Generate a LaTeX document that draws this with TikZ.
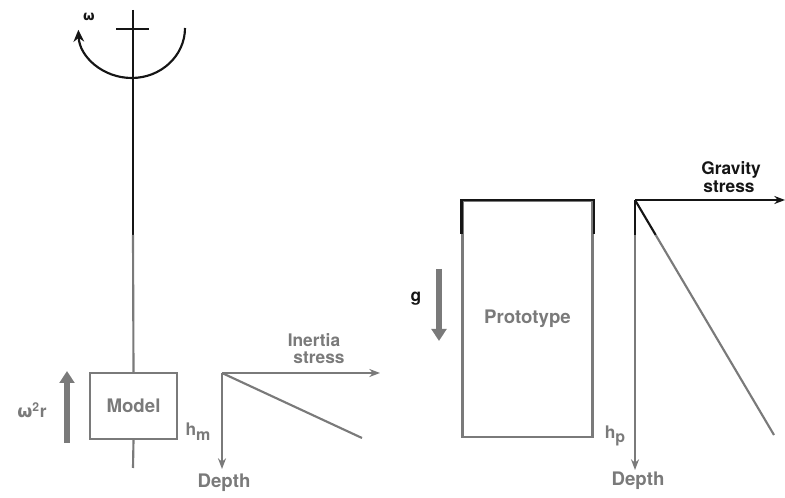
\documentclass[tikz,border=0pt]{standalone}
\usepackage{fontspec}
\setmainfont{TeX Gyre Heros}
\newfontfamily\dvfont{DejaVu Sans}
\usetikzlibrary{arrows.meta}
\definecolor{ink}{HTML}{151515}
\definecolor{pale}{HTML}{7A7A7A}
\tikzset{
  blk/.style={draw=ink, line width=1.6pt},
  gry/.style={draw=pale, line width=1.6pt},
  lbl/.style={font=\fontsize{14}{16}\selectfont\bfseries, inner sep=0pt},
  sml/.style={font=\fontsize{13}{15}\selectfont\bfseries, inner sep=0pt},
  fat/.style={draw=pale, line width=5pt, -{Triangle[width=11pt,length=9pt]}},
  thinarr/.style={-{Stealth[width=6pt,length=8pt]}},
  boxstyle/.style={draw=pale, line width=1.6pt, text=pale, lbl}
}
\begin{document}
\begin{tikzpicture}[x=0.75pt,y=-0.75pt]
\useasboundingbox (0,0) rectangle (785,498);

% ---------- model side ----------
\coordinate (axtop) at (133,10);
\coordinate (axmid) at (133,235);
\coordinate (axbot) at (133,468);
\node[boxstyle, minimum width=65pt, minimum height=49.5pt] (model) at (133.5,406) {Model};
\draw[blk] (axtop) -- (axmid);
\draw[gry] (axmid) -- (model.north);
\draw[gry] (model.south) -- (axbot);

\coordinate (cl) at (116,29);
\coordinate (cr) at (149,29);
\draw[blk, line width=1.2pt] (cl) -- (cr);

\coordinate (arcR) at (185,28);
\draw[blk, -{Stealth[width=8pt,length=9pt]}] (arcR) arc[start angle=0, end angle=-178, x radius=40pt, y radius=37.5pt];
\node[font=\fontsize{10}{12}\selectfont\dvfont\bfseries, inner sep=0pt, text=ink] (om) at (89,17) {ω};

\coordinate (ua0) at (67,443);
\coordinate (ua1) at (67,371);
\draw[fat] (ua0) -- (ua1);
\node[sml, text=pale] (wr) at (32,410) {{\dvfont ω}\textsuperscript{2}r};

\coordinate (io) at (222,373);
\coordinate (ix) at (380,373);
\coordinate (iy) at (222,469);
\coordinate (id) at (362,438);
\draw[gry, thinarr] (io) -- (ix);
\draw[gry, thinarr] (io) -- (iy);
\draw[gry] (io) -- (id);
\node[sml, text=pale] (inl1) at (314,340) {Inertia};
\node[sml, text=pale] (inl2) at (319,358) {stress};
\node[sml, text=pale] (hm) at (198,432) {h\raisebox{-0.5ex}{\fontsize{12}{13}\selectfont m}};
\node[lbl, text=pale] (dm) at (224,483) {Depth};

% ---------- prototype side ----------
\node[boxstyle, minimum width=97.5pt, minimum height=177pt] (proto) at (527.5,319) {Prototype};
\draw[blk] ([yshift=-25.5pt]proto.north west) -- (proto.north west) -- (proto.north east) -- ([yshift=-25.5pt]proto.north east);

\coordinate (ga0) at (439,269);
\coordinate (ga1) at (439,341);
\draw[fat] (ga0) -- (ga1);
\node[sml, text=ink] (gl) at (416,299) {g};

\coordinate (go) at (635,200);
\coordinate (gx) at (785,200);
\coordinate (gm) at (635,235);
\coordinate (gy) at (635,470);
\coordinate (gdm) at (655.7,235);
\coordinate (gd) at (774,435);
\draw[blk, thinarr] (go) -- (gx);
\draw[blk] (go) -- (gm);
\draw[gry, thinarr] (gm) -- (gy);
\draw[blk] (go) -- (gdm);
\draw[gry] (gdm) -- (gd);
\node[sml, text=ink] (gr1) at (731,170) {Gravity};
\node[sml, text=ink] (gr2) at (729,187) {stress};
\node[sml, text=pale] (hp) at (615,436) {h\raisebox{-0.5ex}{\fontsize{12}{13}\selectfont p}};
\node[lbl, text=pale] (dp) at (638,481) {Depth};
\end{tikzpicture}
\end{document}
